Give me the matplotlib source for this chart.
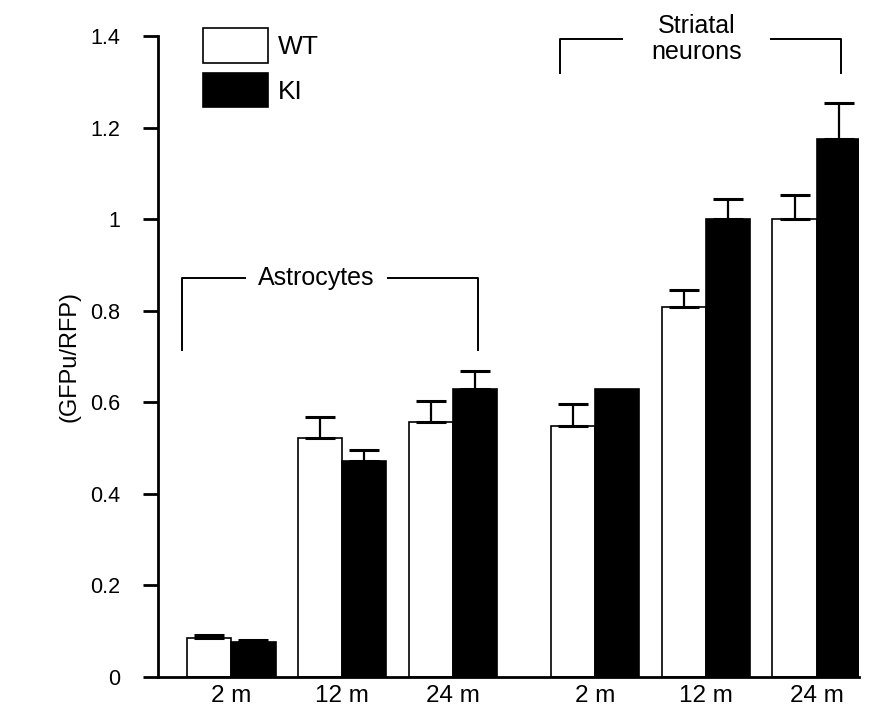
import matplotlib
matplotlib.use("Agg")
import matplotlib.pyplot as plt
import numpy as np
from matplotlib.patches import Patch

plt.rcParams['font.family'] = ['Liberation Sans', 'DejaVu Sans']

# data
ages = ['2 m', '12 m', '24 m', '2 m', '12 m', '24 m']
group_x = [0, 1, 2, 3.28, 4.28, 5.28]
wt_mean = [0.085, 0.523, 0.556, 0.548, 0.809, 1.0]
wt_err = [0.007, 0.045, 0.047, 0.048, 0.036, 0.053]
ki_mean = [0.076, 0.471, 0.629, 0.629, 1.0, 1.175]
ki_err = [0.005, 0.024, 0.039, 0.0, 0.045, 0.078]

width = 0.4
x = np.array(group_x)

fig = plt.figure(figsize=(8.69, 7.13), dpi=100)
ax = fig.add_axes([0.1818, 0.0505, 0.8067, 0.899])

ax.bar(x - width / 2, wt_mean, width, color='white', edgecolor='black', linewidth=1.2, zorder=2)
ax.bar(x + width / 2, ki_mean, width, color='black', edgecolor='black', linewidth=1.2, zorder=2)

# upper error bars only
ax.errorbar(x - width / 2, wt_mean, yerr=[np.zeros(len(wt_err)), wt_err], fmt='none',
            ecolor='black', elinewidth=1.6, capsize=11, capthick=2.2, zorder=3)
ki_has = np.array(ki_err) > 0
ax.errorbar((x + width / 2)[ki_has], np.array(ki_mean)[ki_has],
            yerr=[np.zeros(ki_has.sum()), np.array(ki_err)[ki_has]], fmt='none',
            ecolor='black', elinewidth=1.6, capsize=11, capthick=2.2, zorder=3)

ax.set_xlim(-0.66, 5.66)
ax.set_ylim(0, 1.4)
ax.set_yticks([0, 0.2, 0.4, 0.6, 0.8, 1.0, 1.2, 1.4])
ax.set_yticklabels(['0', '0.2', '0.4', '0.6', '0.8', '1', '1.2', '1.4'], fontsize=15.5)
ax.set_xticks(x)
ax.set_xticklabels(ages, fontsize=17.5)
ax.tick_params(axis='x', length=0, pad=6)
ax.tick_params(axis='y', length=11, width=2, direction='out', pad=16)
ax.spines['top'].set_visible(False)
ax.spines['right'].set_visible(False)
ax.spines['left'].set_linewidth(2)
ax.spines['bottom'].set_linewidth(2)
ax.set_ylabel('(GFPu/RFP)', fontsize=17, labelpad=7)

# group brackets
def bracket(x0, x1, y_top, y_bot, gap0, gap1, label, **kw):
    ax.plot([x0, x0, gap0], [y_bot, y_top, y_top], color='black', lw=1.4, clip_on=False)
    ax.plot([gap1, x1, x1], [y_top, y_top, y_bot], color='black', lw=1.4, clip_on=False)
    ax.text((gap0 + gap1) / 2, y_top, label, ha='center', va='center', **kw)

bracket(-0.444, 2.225, 0.872, 0.714, 0.122, 1.416, 'Astrocytes', fontsize=18)
bracket(2.96, 5.50, 1.393, 1.319, 3.52, 4.87, 'Striatal\nneurons', fontsize=18, linespacing=1.1)

handles = [Patch(facecolor='white', edgecolor='black', linewidth=1.2),
           Patch(facecolor='black', edgecolor='black', linewidth=1.2)]
ax.legend(handles, ['WT', 'KI'], loc='upper left', bbox_to_anchor=(203 / 869, 1 - 28 / 713),
          bbox_transform=fig.transFigure, frameon=False, fontsize=19,
          handlelength=2.47, handleheight=1.64, labelspacing=0.38, handletextpad=0.35,
          borderpad=0, borderaxespad=0)

fig.savefig('out.png', dpi=100)
